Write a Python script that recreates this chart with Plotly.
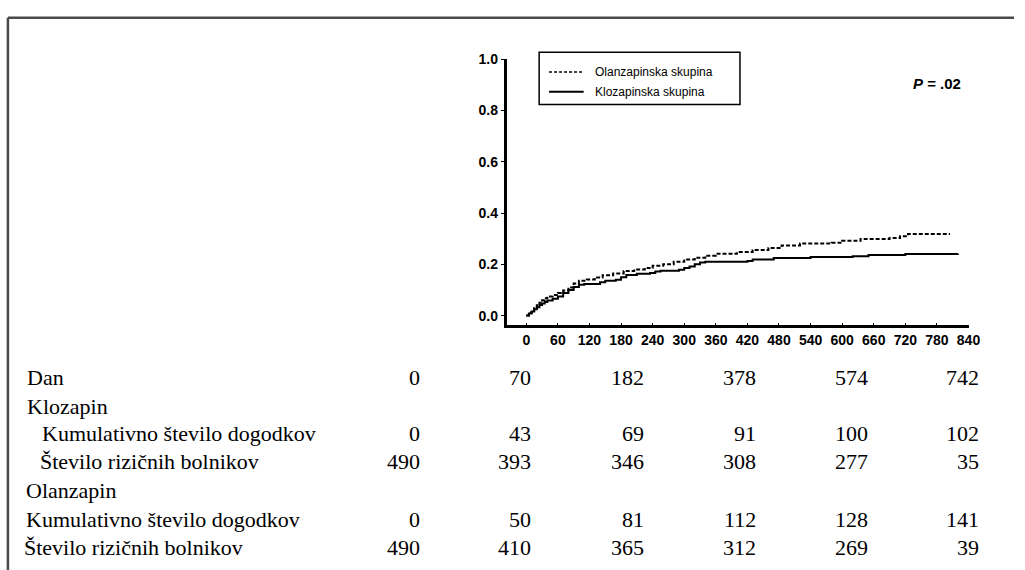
import plotly.graph_objects as go

W, H = 1025, 570

# ---- curve data (days, cumulative probability) ----
kloz_t = [0, 5, 10, 15, 20, 25, 30, 35, 40, 50, 60, 70, 80, 90, 100, 110, 140, 150, 170, 180,
          190, 210, 235, 245, 255, 290, 300, 310, 320, 330, 340, 420, 430, 470, 540, 620, 650, 720, 820]
kloz_v = [0, 0.008, 0.016, 0.025, 0.033, 0.041, 0.047, 0.053, 0.059, 0.066, 0.075, 0.088, 0.100,
          0.112, 0.120, 0.123, 0.130, 0.136, 0.140, 0.150, 0.158, 0.163, 0.166, 0.172, 0.175,
          0.179, 0.186, 0.192, 0.200, 0.207, 0.210, 0.213, 0.219, 0.225, 0.229, 0.232, 0.236,
          0.240, 0.241]
olan_t = [0, 5, 10, 15, 20, 25, 30, 35, 40, 50, 60, 70, 80, 90, 100, 115, 130, 145, 165, 185,
          205, 225, 240, 260, 280, 300, 320, 340, 360, 400, 430, 460, 485, 520, 580, 600, 635,
          690, 710, 725, 805]
olan_v = [0, 0.010, 0.020, 0.030, 0.040, 0.050, 0.060, 0.068, 0.075, 0.080, 0.088, 0.098, 0.110,
          0.125, 0.136, 0.141, 0.149, 0.157, 0.164, 0.174, 0.180, 0.186, 0.195, 0.200, 0.210,
          0.219, 0.226, 0.234, 0.241, 0.248, 0.256, 0.264, 0.274, 0.281, 0.284, 0.292, 0.299,
          0.303, 0.310, 0.318, 0.318]

x_ticks = list(range(0, 841, 60))
y_ticks = [0.0, 0.2, 0.4, 0.6, 0.8, 1.0]
y_tick_labels = ["0.0", "0.2", "0.4", "0.6", "0.8", "1.0"]

legend_names = ["Olanzapinska skupina", "Klozapinska skupina"]
p_text = "<b><i>P</i> = .02</b>"

# ---- table data ----
row_labels = ["Dan", "Klozapin", "Kumulativno število dogodkov", "Število rizičnih bolnikov",
              "Olanzapin", "Kumulativno število dogodkov", "Število rizičnih bolnikov"]
days = [0, 70, 182, 378, 574, 742]
kloz_events = [0, 43, 69, 91, 100, 102]
kloz_risk = [490, 393, 346, 308, 277, 35]
olan_events = [0, 50, 81, 112, 128, 141]
olan_risk = [490, 410, 365, 312, 269, 39]

# ---- layout geometry (pixels) ----
ax_left, ax_right = 513, 980
ax_top, ax_bottom = 52, 322
x0_px, x840_px = 532, 979
pxpd = (x840_px - x0_px) / 840.0
xr = [(ax_left - x0_px) / pxpd, (ax_right - x0_px) / pxpd]
y0_px = 312
pxpv = (y0_px - ax_top) / 1.0
yr = [(y0_px - ax_bottom) / pxpv, 1.0]


def px(x):
    return x / W


def py(y):
    return 1 - y / H


fig = go.Figure()
fig.add_trace(go.Scatter(x=olan_t, y=olan_v, mode="lines", line_shape="hv",
                         line=dict(color="black", width=2, dash="4px,2px"),
                         name=legend_names[0], showlegend=False))
fig.add_trace(go.Scatter(x=kloz_t, y=kloz_v, mode="lines", line_shape="hv",
                         line=dict(color="black", width=2),
                         name=legend_names[1], showlegend=False))

shapes = []
ann = []
# outer frame (top & left)
shapes.append(dict(type="line", xref="paper", yref="paper", x0=px(8), x1=1, y0=py(10), y1=py(10),
                   line=dict(color="#4a4a4a", width=2.5)))
shapes.append(dict(type="line", xref="paper", yref="paper", x0=px(8), x1=px(8), y0=py(10), y1=0,
                   line=dict(color="#4a4a4a", width=2.5)))
# legend box
shapes.append(dict(type="rect", xref="paper", yref="paper", x0=px(545), x1=px(748), y0=py(98), y1=py(45),
                   line=dict(color="black", width=1.5), fillcolor="rgba(0,0,0,0)"))
shapes.append(dict(type="line", xref="paper", yref="paper", x0=px(555), x1=px(590), y0=py(65), y1=py(65),
                   line=dict(color="black", width=1.5, dash="3px,2px")))
shapes.append(dict(type="line", xref="paper", yref="paper", x0=px(555), x1=px(590), y0=py(85), y1=py(85),
                   line=dict(color="black", width=2)))
for i, nm in enumerate(legend_names):
    ann.append(dict(text=nm, xref="paper", yref="paper", x=px(599), y=py(65 + 20 * i),
                    xanchor="left", yanchor="middle", showarrow=False,
                    font=dict(family="Liberation Sans, Arial", size=12, color="black")))
ann.append(dict(text=p_text, xref="paper", yref="paper", x=px(947), y=py(77), xanchor="center",
                yanchor="middle", showarrow=False,
                font=dict(family="Liberation Sans, Arial", size=15, color="black")))

# table
row_y = [375, 404, 432, 460, 489, 519, 547]
label_x = [25, 25, 40, 38, 24, 24, 22]
col_right = [427, 539, 653, 766, 879, 992]
tfont = dict(family="Liberation Serif, Times New Roman", size=22, color="black")
for lbl, lx, ry in zip(row_labels, label_x, row_y):
    ann.append(dict(text=lbl, xref="paper", yref="paper", x=px(lx), y=py(ry), xanchor="left",
                    yanchor="middle", showarrow=False, font=tfont))
for vals, ry in [(days, row_y[0]), (kloz_events, row_y[2]), (kloz_risk, row_y[3]),
                 (olan_events, row_y[5]), (olan_risk, row_y[6])]:
    for v, cx in zip(vals, col_right):
        ann.append(dict(text=str(v), xref="paper", yref="paper", x=px(cx), y=py(ry), xanchor="right",
                        yanchor="middle", showarrow=False, font=tfont))

fig.update_layout(
    width=W, height=H, margin=dict(l=0, r=0, t=0, b=0),
    paper_bgcolor="white", plot_bgcolor="white",
    shapes=shapes, annotations=ann, showlegend=False,
    xaxis=dict(domain=[px(ax_left), px(ax_right)], range=xr, tickvals=x_ticks,
               ticktext=[f"<b>{t}</b>" for t in x_ticks],
               showline=True, linecolor="black", linewidth=2.5, ticks="inside", ticklen=3,
               tickcolor="black", showgrid=False, zeroline=False,
               tickfont=dict(family="Liberation Sans, Arial", size=14, color="black")),
    yaxis=dict(domain=[py(ax_bottom), py(ax_top)], range=yr, tickvals=y_ticks,
               ticktext=[f"<b>{t}</b>" for t in y_tick_labels],
               showline=True, linecolor="black", linewidth=2.5, ticks="outside", ticklen=4,
               tickcolor="black", showgrid=False, zeroline=False,
               tickfont=dict(family="Liberation Sans, Arial", size=14, color="black")),
)
fig.write_html("out.html", config={"displayModeBar": False},
               post_script="document.body.style.margin='0';document.body.style.overflow='hidden';")
